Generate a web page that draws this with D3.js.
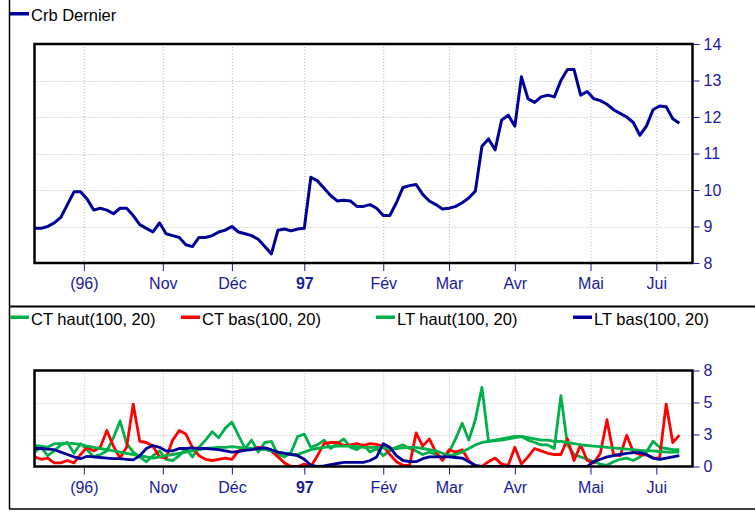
<!DOCTYPE html>
<html>
<head>
<meta charset="utf-8">
<script src="https://cdn.jsdelivr.net/npm/d3@7"></script>
<style>
  body { margin: 0; background: #fff; }
  svg { display: block; font-family: "Liberation Sans", Arial, sans-serif; }
  .grid line { stroke: #b8b8b8; stroke-dasharray: 1,2; }
  .axis text { fill: #1a1a9c; font-size: 16px; }
  .axis line { stroke: #1a1a9c; }
  .legend text { font-size: 16.5px; fill: #000; }
</style>
</head>
<body>
<div id="container"></div>
<script>
// sessions (trading days) are the x unit, one value every 2 sessions
const step = 2;
const monthTicks = [15, 39, 60, 82, 106, 126, 146, 169, 189];
const monthLabels = ["(96)", "Nov", "Déc", "97", "Fév", "Mar", "Avr", "Mai", "Jui"];

const priceTicks = [8, 9, 10, 11, 12, 13, 14];
const oscTicks = [0, 8 / 3, 16 / 3, 8];

const crbDernier = [8.95, 8.95, 9.0, 9.1, 9.25, 9.6, 9.95, 9.95, 9.75, 9.45,
  9.5, 9.45, 9.35, 9.5, 9.5, 9.3, 9.05, 8.95, 8.85, 9.1,
  8.8, 8.75, 8.7, 8.5, 8.45, 8.7, 8.7, 8.75, 8.85, 8.9,
  9.0, 8.85, 8.8, 8.75, 8.65, 8.45, 8.25, 8.9, 8.93, 8.88,
  8.93, 8.95, 10.35, 10.25, 10.05, 9.85, 9.7, 9.72, 9.7, 9.55,
  9.55, 9.6, 9.5, 9.3, 9.3, 9.65, 10.07, 10.12, 10.15, 9.88,
  9.7, 9.6, 9.48, 9.5, 9.55, 9.65, 9.78, 9.97, 11.2, 11.4,
  11.1, 11.92, 12.05, 11.75, 13.1, 12.5, 12.4, 12.55, 12.6, 12.55,
  13.0, 13.3, 13.3, 12.6, 12.7, 12.5, 12.45, 12.35, 12.2, 12.1,
  12.0, 11.85, 11.5, 11.75, 12.2, 12.3, 12.28, 11.95, 11.83];

const ctHaut = [1.2, 1.6, 0.9, 1.3, 1.8, 2.0, 1.1, 1.9, 1.4, 0.8,
  1.0, 1.3, 2.4, 3.8, 1.9, 1.2, 0.8, 0.4, 0.9, 1.3,
  0.6, 0.5, 0.9, 1.5, 0.8, 1.6, 2.2, 2.9, 2.4, 3.2,
  3.7, 2.6, 1.5, 2.2, 1.2, 2.0, 2.1, 1.0, 0.8, 1.2,
  2.5, 2.7, 1.6, 1.8, 2.2, 1.5, 1.9, 2.3, 1.6, 1.4,
  1.8, 1.2, 1.5, 0.9, 1.3, 1.6, 1.8, 1.5, 1.3, 1.0,
  1.2, 1.0, 0.7, 1.2, 2.3, 3.6, 2.2, 3.9, 6.6, 2.1,
  2.2, 2.3, 2.4, 2.5, 2.5, 2.2, 2.0, 1.8, 1.8, 1.5,
  5.9, 1.8, 1.0, 0.8, 0.6, 0.4, 0.2, 0.1, 0.4, 0.6,
  0.7, 0.5, 0.8, 1.2, 2.1, 1.6, 1.5, 1.4, 1.4];

const ctBas = [0.8, 0.6, 0.7, 0.3, 0.3, 0.5, 0.3, 1.0, 1.6, 1.3,
  1.6, 3.0, 1.7, 0.7, 1.6, 5.2, 2.1, 2.0, 1.7, 0.8,
  0.7, 2.2, 3.0, 2.7, 1.6, 0.9, 0.6, 0.5, 0.6, 0.7,
  0.6, 1.3, 1.5, 1.4, 1.6, 1.5, 1.3, 0.8, 0.3, 0.0,
  0.0, 0.2, 0.0, 0.9, 1.9, 2.0, 2.0, 1.75, 1.8, 1.9,
  1.75, 1.9, 1.85, 1.7, 1.0, 0.4, 0.1, 0.1, 2.8, 1.7,
  2.3, 1.2, 0.5, 1.4, 1.2, 1.4, 0.5, 0.0, 0.0, 0.4,
  0.7, 0.2, 0.1, 1.6, 0.2, 0.8, 1.5, 1.3, 1.1, 1.0,
  1.0, 2.3, 0.5, 1.8, 0.5, 0.3, 1.1, 3.9, 1.0, 0.9,
  2.6, 1.2, 1.0, 0.95, 0.7, 0.7, 5.2, 2.0, 2.6];

const ltHaut = [1.75, 1.7, 1.6, 1.9, 1.9, 1.95, 1.9, 1.85, 1.7, 1.6,
  1.5, 1.4, 1.3, 1.2, 1.1, 1.0, 0.9, 0.8, 0.7, 0.8,
  0.9, 1.0, 1.1, 1.2, 1.3, 1.4, 1.5, 1.55, 1.6, 1.6,
  1.65, 1.6, 1.55, 1.5, 1.45, 1.4, 1.3, 1.2, 1.1, 1.0,
  1.0, 1.2, 1.4, 1.5, 1.6, 1.65, 1.7, 1.7, 1.7, 1.65,
  1.6, 1.6, 1.6, 1.55, 1.5, 1.5, 1.55, 1.6, 1.6, 1.5,
  1.4, 1.3, 1.1, 0.9, 1.0, 1.2, 1.5, 1.8, 2.0, 2.1,
  2.15, 2.2, 2.3, 2.4, 2.5, 2.4, 2.3, 2.2, 2.2, 2.1,
  2.1, 2.0, 1.9, 1.8, 1.75, 1.7, 1.65, 1.6, 1.55, 1.5,
  1.45, 1.4, 1.35, 1.3, 1.3, 1.25, 1.2, 1.2, 1.2];

const ltBas = [1.5, 1.5, 1.45, 1.4, 1.2, 1.0, 0.8, 0.65, 0.85, 0.8,
  0.75, 0.7, 0.65, 0.65, 0.6, 0.55, 0.9, 1.5, 1.75, 1.6,
  1.3, 1.3, 1.5, 1.5, 1.55, 1.5, 1.5, 1.45, 1.4, 1.3,
  1.2, 1.25, 1.35, 1.4, 1.5, 1.55, 1.4, 1.2, 1.1, 1.0,
  0.9, 0.6, 0.1, 0.0, 0.05, 0.15, 0.25, 0.35, 0.35, 0.35,
  0.35, 0.5, 0.8, 1.9, 1.6, 0.9, 0.5, 0.4, 0.4, 0.65,
  0.8, 0.8, 0.8, 0.8, 0.75, 0.7, 0.4, 0.1, 0.0, 0.0,
  0.0, 0.0, 0.0, 0.0, 0.0, 0.0, 0.0, 0.0, 0.0, 0.0,
  0.0, 0.0, 0.0, 0.0, 0.0, 0.4, 0.6, 0.8, 0.9, 1.0,
  1.1, 1.15, 1.15, 1.0, 0.7, 0.6, 0.7, 0.8, 0.9];

const navy = "#000099", red = "#ff0000", green = "#00b04a";

const W = 755, H = 512;
const svg = d3.select("#container").append("svg")
  .attr("width", W)
  .attr("height", H);

// outer frame (left, bottom) and the divider between panes
svg.append("line").attr("x1", 9.5).attr("x2", 9.5).attr("y1", 0).attr("y2", 509)
  .attr("stroke", "#000").attr("stroke-width", 1.5);
svg.append("line").attr("x1", 9).attr("x2", W).attr("y1", 509).attr("y2", 509)
  .attr("stroke", "#000").attr("stroke-width", 1.5);
svg.append("line").attr("x1", 9).attr("x2", W).attr("y1", 306.5).attr("y2", 306.5)
  .attr("stroke", "#000").attr("stroke-width", 2);

const x = d3.scaleLinear()
  .domain([0, 200])
  .range([34.5, 692.5]);

const pane = function(top, bottom, yScale, yTicks, series, lineW){
  const g = svg.append("g");
  const left = x.range()[0], right = x.range()[1];
  const clipId = "clip" + Math.round(top);

  g.append("clipPath").attr("id", clipId)
    .append("rect")
    .attr("x", left).attr("y", top)
    .attr("width", right - left).attr("height", bottom - top);

  // grid
  const grid = g.append("g").attr("class", "grid");
  grid.selectAll("line.v")
    .data(monthTicks)
    .enter().append("line")
    .attr("class", "v")
    .attr("x1", (d) => x(d) + 0.5).attr("x2", (d) => x(d) + 0.5)
    .attr("y1", top).attr("y2", bottom);
  grid.selectAll("line.h")
    .data(yTicks.slice(1, -1))
    .enter().append("line")
    .attr("class", "h")
    .attr("x1", left).attr("x2", right)
    .attr("y1", (d) => Math.round(yScale(d)) + 0.5)
    .attr("y2", (d) => Math.round(yScale(d)) + 0.5);

  // series
  series.forEach(function(s){
    const line = d3.line()
      .x((d, i) => x(i * step))
      .y((d) => yScale(d));
    g.append("path")
      .datum(s.values)
      .attr("clip-path", `url(#${clipId})`)
      .attr("fill", "none")
      .attr("stroke", s.color)
      .attr("stroke-width", lineW)
      .attr("stroke-linejoin", "round")
      .attr("d", line);
  });

  // box
  g.append("rect")
    .attr("x", left).attr("y", top)
    .attr("width", right - left).attr("height", bottom - top)
    .attr("fill", "none")
    .attr("stroke", "#000")
    .attr("stroke-width", 2.5);

  // right axis
  const ya = g.append("g")
    .attr("class", "axis")
    .attr("transform", `translate(${right + 1},0)`)
    .call(d3.axisRight(yScale)
      .tickValues(yTicks)
      .tickSize(6)
      .tickPadding(4)
      .tickFormat((d) => Math.round(d)));
  ya.select(".domain").remove();

  // bottom axis
  const xa = g.append("g")
    .attr("class", "axis")
    .attr("transform", `translate(0,${bottom + 1})`)
    .call(d3.axisBottom(x)
      .tickValues(monthTicks)
      .tickSize(7)
      .tickFormat((d, i) => monthLabels[i]));
  xa.select(".domain").remove();
  xa.selectAll("text")
    .attr("y", 14)
    .attr("font-size", 17)
    .attr("font-weight", (d, i) => monthLabels[i] === "97" ? "bold" : null);

  return g;
};

const yTop = d3.scaleLinear().domain([8, 14]).range([263, 44]);
pane(44, 263, yTop, priceTicks, [{ values: crbDernier, color: navy }], 3);

const yBot = d3.scaleLinear().domain([0, 8]).range([466.5, 370.5]);
pane(370.5, 466.5, yBot, oscTicks, [
  { values: ctHaut, color: green },
  { values: ctBas, color: red },
  { values: ltHaut, color: green },
  { values: ltBas, color: navy }
], 2.8);

// legends
const legend = function(items, y){
  const lg = svg.append("g").attr("class", "legend");
  items.forEach(function(it){
    lg.append("rect")
      .attr("x", it.x).attr("y", y - 1.5)
      .attr("width", 19).attr("height", 3.5)
      .attr("fill", it.color);
    lg.append("text")
      .attr("x", it.x + 21)
      .attr("y", y + 7.5)
      .text(it.name);
  });
};

legend([{ name: "Crb Dernier", color: navy, x: 10 }], 13.5);
legend([
  { name: "CT haut(100, 20)", color: green, x: 10 },
  { name: "CT bas(100, 20)", color: red, x: 181 },
  { name: "LT haut(100, 20)", color: green, x: 376 },
  { name: "LT bas(100, 20)", color: navy, x: 573 }
], 317);
</script>
</body>
</html>
